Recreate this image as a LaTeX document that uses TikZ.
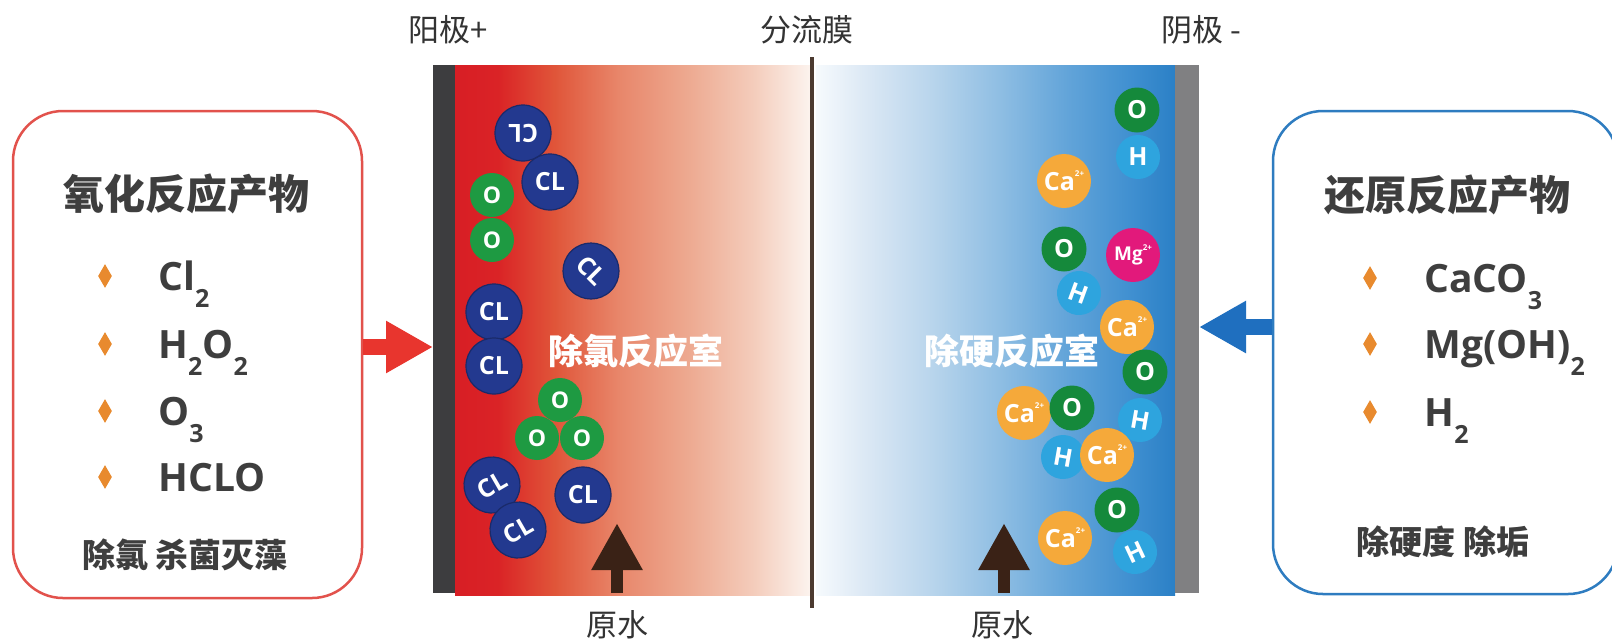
\documentclass[tikz,border=0pt]{standalone}
\usepackage{fontspec}
\setmainfont{Open Sans}
\newfontfamily\cjk{Noto Sans CJK SC}
\newfontfamily\lat{Open Sans}
\usetikzlibrary{arrows.meta,shapes.geometric,fit}

% palette
\definecolor{anodegray}{HTML}{3D3D3F}
\definecolor{cathodegray}{HTML}{808082}
\definecolor{membrane}{HTML}{4B3A30}
\definecolor{boxred}{HTML}{E2524C}
\definecolor{boxblue}{HTML}{2E7CC0}
\definecolor{arrred}{HTML}{E8352E}
\definecolor{arrblue}{HTML}{1F6FBF}
\definecolor{waterbrown}{HTML}{3A2216}
\definecolor{textgray}{HTML}{3E3E3E}
\definecolor{labelgray}{HTML}{333333}
\definecolor{bulletorange}{HTML}{E88A2E}
\definecolor{clblue}{HTML}{23398F}
\definecolor{clrim}{HTML}{1A2A6A}
\definecolor{ogreen}{HTML}{1E9A42}
\definecolor{ogreendark}{HTML}{15893B}
\definecolor{hblue}{HTML}{2EA4DE}
\definecolor{caorange}{HTML}{F5A93A}
\definecolor{mgpink}{HTML}{E2197B}
% red chamber stops
\definecolor{ra}{HTML}{D81E25}
\definecolor{rb}{HTML}{DA2326}
\definecolor{rc}{HTML}{E05539}
\definecolor{rd}{HTML}{E8866A}
\definecolor{re}{HTML}{EDA88F}
\definecolor{rf}{HTML}{F4CCBB}
\definecolor{rg}{HTML}{FCF3EE}
% blue chamber stops
\definecolor{ba}{HTML}{F6FAFD}
\definecolor{bb}{HTML}{DDE9F5}
\definecolor{bc}{HTML}{B9D5EC}
\definecolor{bd}{HTML}{8FBEE3}
\definecolor{be}{HTML}{62A4D9}
\definecolor{bf}{HTML}{3F8FD0}
\definecolor{bg}{HTML}{2B80C6}

\pgfdeclarehorizontalshading{redfade}{100bp}{color(0bp)=(ra); color(25bp)=(ra); color(31bp)=(rb); color(39bp)=(rc); color(48bp)=(rd); color(57.5bp)=(re); color(67bp)=(rf); color(75bp)=(rg); color(100bp)=(rg)}
\pgfdeclarehorizontalshading{bluefade}{100bp}{color(0bp)=(ba); color(25bp)=(ba); color(31.5bp)=(bb); color(41bp)=(bc); color(50.5bp)=(bd); color(60bp)=(be); color(69bp)=(bf); color(75bp)=(bg); color(100bp)=(bg)}

\newcommand\chemsub[1]{\raisebox{-0.45em}{\fontsize{12.5}{12.5}\selectfont #1}}
\newcommand\ionch[1]{\raisebox{1.0ex}{\fontsize{4}{4}\selectfont #1}}

\tikzset{
  slab/.style={inner sep=0pt, outer sep=0pt, draw=none},
  productbox/.style={inner sep=0pt, rounded corners=25pt, line width=1.25pt, fill=white},
  boxtitle/.style={text=textgray, font=\cjk\bfseries\fontsize{20.5}{20.5}\selectfont},
  boxnote/.style={text=textgray, font=\cjk\bfseries\fontsize{16.5}{16.5}\selectfont},
  item/.style={anchor=base west, inner sep=0pt, text=textgray, font=\lat\bfseries\fontsize{19.5}{19.5}\selectfont},
  bullet/.style={diamond, fill=bulletorange, inner sep=0pt, minimum width=7pt, minimum height=12pt},
  toplabel/.style={text=labelgray, font=\cjk\fontsize{15.5}{15.5}\selectfont},
  chlabel/.style={text=white, font=\cjk\bfseries\fontsize{17.5}{17.5}\selectfont},
  sidearrow/.style={line width=8pt, -{Triangle[length=23.5pt, width=24.5pt]}},
  flowarrow/.style={line width=6pt, draw=waterbrown, -{Triangle[length=23.5pt, width=24pt]}},
  ball/.style={circle, inner sep=0pt, text=white},
  clball/.style={ball, fill=clblue, draw=clrim, line width=0.6pt, minimum size=28pt, font=\lat\bfseries\fontsize{12.5}{12.5}\selectfont},
  oball/.style={ball, fill=ogreen, minimum size=22pt, font=\lat\bfseries\fontsize{11.5}{11.5}\selectfont},
  oballr/.style={oball, fill=ogreendark, minimum size=22.5pt, font=\lat\bfseries\fontsize{12.5}{12.5}\selectfont},
  hball/.style={ball, fill=hblue, minimum size=22pt, font=\lat\bfseries\fontsize{12.5}{12.5}\selectfont},
  caball/.style={ball, fill=caorange, minimum size=27pt, font=\lat\bfseries\fontsize{12.5}{12.5}\selectfont},
  mgball/.style={ball, fill=mgpink, minimum size=27pt, font=\lat\bfseries\fontsize{9.5}{9.5}\selectfont},
}

\begin{document}
\begin{tikzpicture}[x=0.5pt, y=-0.5pt]
\useasboundingbox (0,0) rectangle (1612,639);
\fill[white] (0,0) rectangle (1612,639);

% electrodes, chambers and membrane
\node[slab, fit={(455,65) (810,595)}, shading=redfade] (redch) {};
\node[slab, fit={(816,65) (1175,595)}, shading=bluefade] (bluech) {};
\node[slab, fit={(433,65) (455,593)}, fill=anodegray] (anode) {};
\node[slab, fit={(1175,65) (1199,593)}, fill=cathodegray] (cathode) {};
\node[slab, fit={(810,57) (814,608)}, fill=membrane] (memb) {};

% electrode and membrane labels
\node[toplabel] (lanode) at (448,30) {阳极+};
\node[toplabel] (lmemb) at (807,30) {分流膜};
\node[toplabel] (lcath) at (1201,30) {阴极 -};

% product boxes
\node[productbox, draw=boxred, fit={(13,111) (362,598)}] (lbox) {};
\node[productbox, draw=boxblue, fit={(1273,111) (1618,594)}] (rbox) {};

\node[boxtitle] (ltitle) at (186,194) {氧化反应产物};
\node[bullet] (lb1) at (105,276) {};
\node[bullet] (lb2) at (105,344) {};
\node[bullet] (lb3) at (105,411) {};
\node[bullet] (lb4) at (105,477) {};
\node[item] (li1) at (158,290) {Cl\chemsub{2}};
\node[item] (li2) at (158,358) {H\chemsub{2}O\chemsub{2}};
\node[item] (li3) at (158,425) {O\chemsub{3}};
\node[item] (li4) at (158,491) {HCLO};
\node[boxnote] (lnote) at (185,555) {除氯 杀菌灭藻};

\node[boxtitle] (rtitle) at (1447,195) {还原反应产物};
\node[bullet] (rb1) at (1370,278) {};
\node[bullet] (rb2) at (1370,344) {};
\node[bullet] (rb3) at (1370,412) {};
\node[item] (ri1) at (1424,292) {CaCO\chemsub{3}};
\node[item] (ri2) at (1424,358) {Mg(OH)\chemsub{2}};
\node[item] (ri3) at (1424,426) {H\chemsub{2}};
\node[boxnote] (rnote) at (1443,542) {除硬度 除垢};

% products fed to the electrodes
\coordinate (redlevel) at (0,347);
\coordinate (bluelevel) at (0,327);
\draw[sidearrow, draw=arrred] (lbox.east |- redlevel) -- (anode.west |- redlevel);
\draw[sidearrow, draw=arrblue] (rbox.west |- bluelevel) -- (cathode.east |- bluelevel);

% raw water inflow
\coordinate (win1) at (617,593);
\coordinate (wtop1) at (617,523);
\coordinate (win2) at (1004,593);
\coordinate (wtop2) at (1004,523);
\draw[flowarrow] (win1) -- (wtop1);
\draw[flowarrow] (win2) -- (wtop2);
\node[toplabel] (raw1) at (617,625) {原水};
\node[toplabel] (raw2) at (1002,625) {原水};

% chamber names
\node[chlabel] (nred) at (636,351) {除氯反应室};
\node[chlabel] (nblue) at (1012,351) {除硬反应室};

% dechlorination chamber particles
\node[clball, rotate=180] (cl1) at (523,133) {CL};
\node[clball] (cl2) at (550,182) {CL};
\node[oball] (ol1) at (492,195) {O};
\node[oball] (ol2) at (492,240) {O};
\node[clball, rotate=-45] (cl3) at (591,271) {CL};
\node[clball] (cl4) at (494,312) {CL};
\node[clball] (cl5) at (494,366) {CL};
\node[oball] (ol3) at (560,400) {O};
\node[oball] (ol4) at (537,438) {O};
\node[oball] (ol5) at (582,438) {O};
\node[clball, rotate=30] (cl6) at (492,485) {CL};
\node[clball, rotate=30] (cl7) at (518,530) {CL};
\node[clball] (cl8) at (583,495) {CL};

% softening chamber particles
\node[hball] (h1) at (1138,157) {H};
\node[hball, rotate=-20] (h2) at (1079,293) {H};
\node[hball, rotate=-10] (h3) at (1140,420) {H};
\node[hball, rotate=-10] (h4) at (1063,457) {H};
\node[hball, rotate=25] (h5) at (1135,552) {H};
\node[caball] (ca1) at (1064,181) {Ca\ionch{2+}};
\node[mgball] (mg1) at (1133,255) {Mg\ionch{2+}};
\node[caball] (ca2) at (1127,327) {Ca\ionch{2+}};
\node[caball] (ca3) at (1024,413) {Ca\ionch{2+}};
\node[caball] (ca4) at (1107,455) {Ca\ionch{2+}};
\node[caball] (ca5) at (1065,538) {Ca\ionch{2+}};
\node[oballr] (or1) at (1137,110) {O};
\node[oballr] (or2) at (1064,249) {O};
\node[oballr] (or3) at (1145,372) {O};
\node[oballr] (or4) at (1072,408) {O};
\node[oballr] (or5) at (1117,510) {O};
\end{tikzpicture}
\end{document}
